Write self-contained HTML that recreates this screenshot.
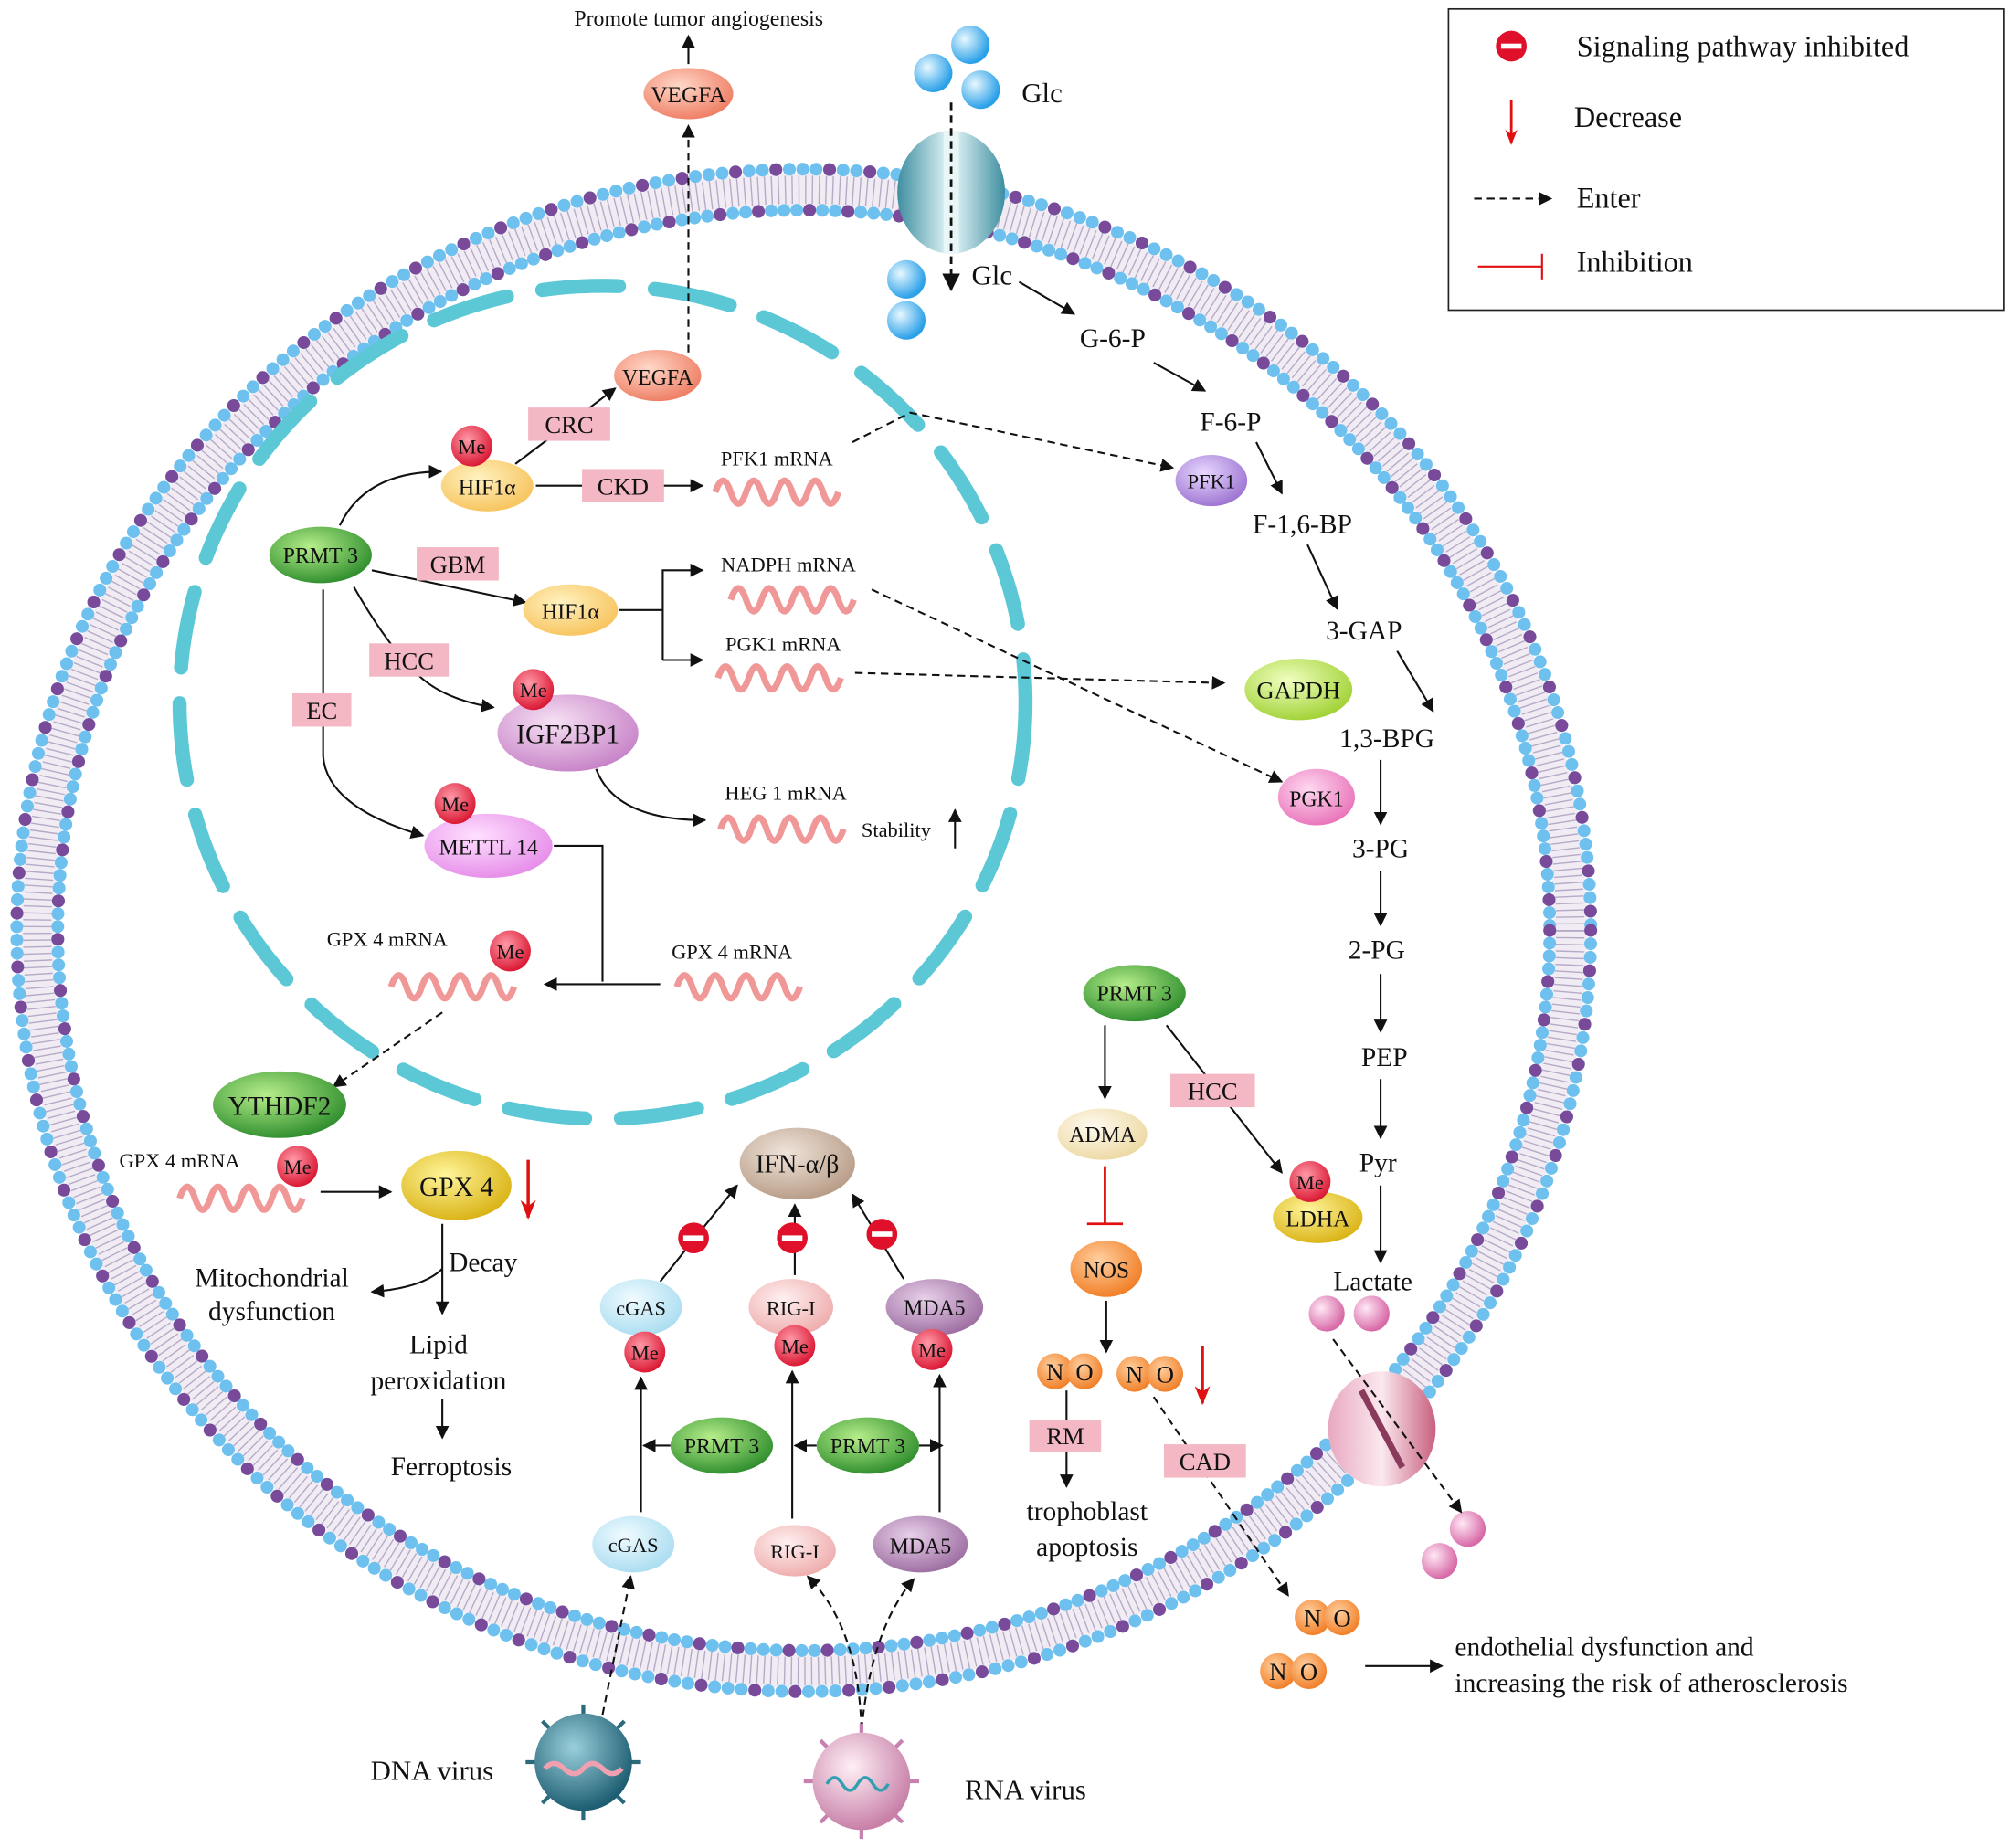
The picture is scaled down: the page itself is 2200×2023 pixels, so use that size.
<!DOCTYPE html>
<html><head><meta charset="utf-8"><style>
html,body{margin:0;padding:0;background:#fff}
svg{display:block}
text{font-family:"Liberation Serif",serif;fill:#111}
</style></head><body>
<svg width="2200" height="2023" viewBox="0 0 1568 1442" xmlns="http://www.w3.org/2000/svg">
<defs>
<marker id="a" viewBox="0 0 10 10" refX="9" refY="5" markerWidth="7" markerHeight="7" orient="auto-start-reverse"><path d="M0,0 L10,5 L0,10 z" fill="#111"/></marker>
<marker id="r" viewBox="0 0 10 10" refX="9" refY="5" markerWidth="6" markerHeight="7" orient="auto"><path d="M0,1 L10,5 L0,9 L3,5 z" fill="#e01010"/></marker>
<radialGradient id="gG" cx="40%" cy="35%" r="70%"><stop offset="0" stop-color="#b6ee8a"/><stop offset="1" stop-color="#2a8a2a"/></radialGradient>
<radialGradient id="gY" cx="40%" cy="35%" r="70%"><stop offset="0" stop-color="#fff2c0"/><stop offset="1" stop-color="#f7c25a"/></radialGradient>
<radialGradient id="gS" cx="40%" cy="35%" r="70%"><stop offset="0" stop-color="#ffd8c8"/><stop offset="1" stop-color="#ee7a60"/></radialGradient>
<radialGradient id="gP" cx="40%" cy="35%" r="70%"><stop offset="0" stop-color="#f6e0f4"/><stop offset="1" stop-color="#c680c6"/></radialGradient>
<radialGradient id="gM" cx="40%" cy="35%" r="70%"><stop offset="0" stop-color="#ffe0ff"/><stop offset="1" stop-color="#e58ae8"/></radialGradient>
<radialGradient id="gR" cx="40%" cy="35%" r="70%"><stop offset="0" stop-color="#ff9aa8"/><stop offset="1" stop-color="#d8102c"/></radialGradient>
<radialGradient id="gGold" cx="40%" cy="35%" r="70%"><stop offset="0" stop-color="#fff59a"/><stop offset="1" stop-color="#d8b010"/></radialGradient>
<radialGradient id="gC" cx="40%" cy="35%" r="70%"><stop offset="0" stop-color="#f0fbff"/><stop offset="1" stop-color="#a8dcf0"/></radialGradient>
<radialGradient id="gRI" cx="40%" cy="35%" r="70%"><stop offset="0" stop-color="#fff0f0"/><stop offset="1" stop-color="#eeaaaa"/></radialGradient>
<radialGradient id="gMD" cx="40%" cy="35%" r="70%"><stop offset="0" stop-color="#e8d0ea"/><stop offset="1" stop-color="#9a6a9e"/></radialGradient>
<radialGradient id="gT" cx="40%" cy="35%" r="70%"><stop offset="0" stop-color="#efe4da"/><stop offset="1" stop-color="#b69a84"/></radialGradient>
<radialGradient id="gAD" cx="40%" cy="35%" r="70%"><stop offset="0" stop-color="#fffaf0"/><stop offset="1" stop-color="#ecd8a0"/></radialGradient>
<radialGradient id="gO" cx="40%" cy="35%" r="70%"><stop offset="0" stop-color="#ffd0a0"/><stop offset="1" stop-color="#f07a20"/></radialGradient>
<radialGradient id="gPF" cx="40%" cy="35%" r="70%"><stop offset="0" stop-color="#e8d8ff"/><stop offset="1" stop-color="#9a70d0"/></radialGradient>
<radialGradient id="gL" cx="40%" cy="35%" r="70%"><stop offset="0" stop-color="#f0ffc0"/><stop offset="1" stop-color="#9ed030"/></radialGradient>
<radialGradient id="gPK" cx="40%" cy="35%" r="70%"><stop offset="0" stop-color="#ffd8f0"/><stop offset="1" stop-color="#e870b8"/></radialGradient>
<radialGradient id="gB" cx="35%" cy="35%" r="65%"><stop offset="0" stop-color="#e8f8ff"/><stop offset="1" stop-color="#2aa0e8"/></radialGradient>
<radialGradient id="gLa" cx="35%" cy="35%" r="65%"><stop offset="0" stop-color="#ffe8f4"/><stop offset="1" stop-color="#d86aa8"/></radialGradient>
<radialGradient id="gV1" cx="40%" cy="35%" r="65%"><stop offset="0" stop-color="#9ad0dc"/><stop offset="1" stop-color="#1e5e72"/></radialGradient>
<radialGradient id="gV2" cx="40%" cy="35%" r="65%"><stop offset="0" stop-color="#fff0f6"/><stop offset="1" stop-color="#c880a8"/></radialGradient>
<linearGradient id="ch" x1="0" x2="1"><stop offset="0" stop-color="#3e8ea0"/><stop offset=".45" stop-color="#d8eef2"/><stop offset=".55" stop-color="#d8eef2"/><stop offset="1" stop-color="#3e8ea0"/></linearGradient>
<linearGradient id="ch2" x1="0" x2="1"><stop offset="0" stop-color="#e8a8c0"/><stop offset=".5" stop-color="#fbe8ef"/><stop offset="1" stop-color="#c8607e"/></linearGradient>
<path id="w" d="M0,0 q6,-18 12,0 t12,0 t12,0 t12,0 t12,0 t12,0 t12,0 t12,0" fill="none" stroke="#f09898" stroke-width="5"/>
</defs>

<!-- membrane -->
<ellipse cx="627" cy="726" rx="598" ry="578" fill="none" stroke="#f1ecf4" stroke-width="26"/>
<ellipse cx="627" cy="726" rx="598" ry="578" fill="none" stroke="#7a6a9a" stroke-width="22" stroke-dasharray="1 4.3" opacity=".5"/>
<ellipse cx="627" cy="726" rx="614" ry="594" fill="none" stroke="#6ec0ee" stroke-width="10" stroke-linecap="round" stroke-dasharray="0 10.5"/>
<ellipse cx="627" cy="726" rx="614" ry="594" fill="none" stroke="#7a4a9a" stroke-width="10" stroke-linecap="round" stroke-dasharray="0 31.5 0 42"/>
<ellipse cx="627" cy="726" rx="582" ry="562" fill="none" stroke="#6ec0ee" stroke-width="10" stroke-linecap="round" stroke-dasharray="0 10"/>
<ellipse cx="627" cy="726" rx="582" ry="562" fill="none" stroke="#7a4a9a" stroke-width="10" stroke-linecap="round" stroke-dasharray="0 40 0 30"/>

<!-- nucleus -->
<ellipse cx="470" cy="548" rx="330" ry="325" fill="none" stroke="#5cc8d6" stroke-width="11" stroke-linecap="round" stroke-dasharray="60 28"/>

<!-- channels -->
<ellipse cx="742" cy="150" rx="42" ry="48" fill="url(#ch)"/>
<rect x="736" y="102" width="12" height="96" fill="#e8f6f8"/>
<line x1="742" y1="80" x2="742" y2="226" stroke="#111" stroke-width="2" stroke-dasharray="6 4" marker-end="url(#a)"/>
<ellipse cx="1078" cy="1115" rx="42" ry="45" fill="url(#ch2)"/>
<line x1="1062" y1="1085" x2="1094" y2="1145" stroke="#8a3a5a" stroke-width="5"/>

<!-- glucose -->
<circle cx="728" cy="57" r="15" fill="url(#gB)"/><circle cx="757" cy="35" r="15" fill="url(#gB)"/><circle cx="765" cy="70" r="15" fill="url(#gB)"/>
<circle cx="707" cy="218" r="15" fill="url(#gB)"/><circle cx="707" cy="250" r="15" fill="url(#gB)"/>
<text x="797" y="80" font-size="22">Glc</text>
<text x="758" y="222" font-size="22">Glc</text>

<!-- top -->
<text x="545" y="20" font-size="17" text-anchor="middle">Promote tumor angiogenesis</text>
<line x1="537" y1="50" x2="537" y2="28" stroke="#111" stroke-width="1.5" marker-end="url(#a)"/>
<ellipse cx="537" cy="73" rx="35" ry="20" fill="url(#gS)"/>
<text x="537" y="80" font-size="18" text-anchor="middle">VEGFA</text>
<line x1="537" y1="275" x2="537" y2="98" stroke="#111" stroke-width="1.5" stroke-dasharray="6 4" marker-end="url(#a)"/>

<!-- nucleus contents -->
<ellipse cx="513" cy="293" rx="34" ry="20" fill="url(#gS)"/><text x="513" y="300" font-size="17" text-anchor="middle">VEGFA</text>
<line x1="402" y1="362" x2="480" y2="303" stroke="#111" stroke-width="1.5" marker-end="url(#a)"/>
<rect x="412" y="318" width="64" height="26" fill="#f4b8c4"/><text x="444" y="338" font-size="19" text-anchor="middle">CRC</text>
<ellipse cx="380" cy="379" rx="36" ry="20" fill="url(#gY)"/><text x="380" y="386" font-size="17" text-anchor="middle">HIF1α</text>
<circle cx="368" cy="348" r="16" fill="url(#gR)"/><text x="368" y="354" font-size="16" text-anchor="middle">Me</text>
<line x1="418" y1="379" x2="548" y2="379" stroke="#111" stroke-width="1.5" marker-end="url(#a)"/>
<rect x="454" y="366" width="64" height="26" fill="#f4b8c4"/><text x="486" y="386" font-size="19" text-anchor="middle">CKD</text>
<text x="606" y="363" font-size="16" text-anchor="middle">PFK1 mRNA</text>
<use href="#w" x="558" y="384"/>

<ellipse cx="250" cy="433" rx="40" ry="22" fill="url(#gG)"/><text x="250" y="439" font-size="17" text-anchor="middle">PRMT 3</text>
<path d="M265,410 Q285,368 344,368" fill="none" stroke="#111" stroke-width="1.5" marker-end="url(#a)"/>
<line x1="290" y1="445" x2="410" y2="470" stroke="#111" stroke-width="1.5" marker-end="url(#a)"/>
<rect x="325" y="427" width="64" height="26" fill="#f4b8c4"/><text x="357" y="447" font-size="19" text-anchor="middle">GBM</text>
<ellipse cx="445" cy="476" rx="37" ry="20" fill="url(#gY)"/><text x="445" y="483" font-size="17" text-anchor="middle">HIF1α</text>
<polyline points="483,476 517,476" fill="none" stroke="#111" stroke-width="1.5"/>
<polyline points="517,515 517,445 548,445" fill="none" stroke="#111" stroke-width="1.5" marker-end="url(#a)"/>
<line x1="517" y1="515" x2="548" y2="515" stroke="#111" stroke-width="1.5" marker-end="url(#a)"/>
<text x="615" y="446" font-size="16" text-anchor="middle">NADPH mRNA</text>
<use href="#w" x="570" y="468"/>
<text x="611" y="508" font-size="16" text-anchor="middle">PGK1 mRNA</text>
<use href="#w" x="560" y="529"/>

<path d="M276,458 Q300,500 320,520 Q340,545 385,552" fill="none" stroke="#111" stroke-width="1.5" marker-end="url(#a)"/>
<rect x="288" y="502" width="62" height="26" fill="#f4b8c4"/><text x="319" y="522" font-size="19" text-anchor="middle">HCC</text>
<ellipse cx="443" cy="572" rx="55" ry="30" fill="url(#gP)"/><text x="443" y="580" font-size="21" text-anchor="middle">IGF2BP1</text>
<circle cx="416" cy="538" r="16" fill="url(#gR)"/><text x="416" y="544" font-size="16" text-anchor="middle">Me</text>
<path d="M252,460 L252,590 Q255,630 330,652" fill="none" stroke="#111" stroke-width="1.5" marker-end="url(#a)"/>
<rect x="228" y="541" width="46" height="26" fill="#f4b8c4"/><text x="251" y="561" font-size="19" text-anchor="middle">EC</text>
<ellipse cx="381" cy="660" rx="50" ry="25" fill="url(#gM)"/><text x="381" y="667" font-size="17" text-anchor="middle">METTL 14</text>
<circle cx="355" cy="627" r="16" fill="url(#gR)"/><text x="355" y="633" font-size="16" text-anchor="middle">Me</text>
<path d="M465,600 Q480,640 550,640" fill="none" stroke="#111" stroke-width="1.5" marker-end="url(#a)"/>
<text x="613" y="624" font-size="16" text-anchor="middle">HEG 1 mRNA</text>
<use href="#w" x="562" y="647"/>
<text x="672" y="653" font-size="16">Stability</text>
<line x1="745" y1="662" x2="745" y2="632" stroke="#111" stroke-width="1.5" marker-end="url(#a)"/>
<polyline points="432,660 470,660 470,766" fill="none" stroke="#111" stroke-width="1.5"/>
<line x1="515" y1="768" x2="425" y2="768" stroke="#111" stroke-width="1.5" marker-end="url(#a)"/>
<text x="571" y="748" font-size="16" text-anchor="middle">GPX 4 mRNA</text>
<use href="#w" x="528" y="770"/>
<text x="302" y="738" font-size="16" text-anchor="middle">GPX 4 mRNA</text>
<use href="#w" x="305" y="770"/>
<circle cx="398" cy="742" r="16" fill="url(#gR)"/><text x="398" y="748" font-size="16" text-anchor="middle">Me</text>

<!-- GPX4 cytoplasm -->
<line x1="345" y1="790" x2="260" y2="848" stroke="#111" stroke-width="1.5" stroke-dasharray="6 4" marker-end="url(#a)"/>
<ellipse cx="218" cy="862" rx="52" ry="26" fill="url(#gG)"/><text x="218" y="870" font-size="21" text-anchor="middle">YTHDF2</text>
<text x="140" y="911" font-size="16" text-anchor="middle">GPX 4 mRNA</text>
<use href="#w" x="140" y="935"/>
<circle cx="232" cy="910" r="16" fill="url(#gR)"/><text x="232" y="916" font-size="16" text-anchor="middle">Me</text>
<line x1="250" y1="930" x2="305" y2="930" stroke="#111" stroke-width="1.5" marker-end="url(#a)"/>
<ellipse cx="356" cy="925" rx="43" ry="27" fill="url(#gGold)"/><text x="356" y="933" font-size="21" text-anchor="middle">GPX 4</text>
<line x1="412" y1="905" x2="412" y2="950" stroke="#e01010" stroke-width="2.5" marker-end="url(#r)"/>
<text x="350" y="992" font-size="21">Decay</text>
<line x1="345" y1="955" x2="345" y2="1025" stroke="#111" stroke-width="1.5" marker-end="url(#a)"/>
<path d="M345,990 Q330,1005 290,1008" fill="none" stroke="#111" stroke-width="1.5" marker-end="url(#a)"/>
<text x="212" y="1004" font-size="21" text-anchor="middle">Mitochondrial</text>
<text x="212" y="1030" font-size="21" text-anchor="middle">dysfunction</text>
<text x="342" y="1056" font-size="21" text-anchor="middle">Lipid</text>
<text x="342" y="1084" font-size="21" text-anchor="middle">peroxidation</text>
<line x1="345" y1="1092" x2="345" y2="1122" stroke="#111" stroke-width="1.5" marker-end="url(#a)"/>
<text x="352" y="1151" font-size="21" text-anchor="middle">Ferroptosis</text>

<!-- IFN -->
<ellipse cx="622" cy="908" rx="45" ry="28" fill="url(#gT)"/><text x="622" y="915" font-size="20" text-anchor="middle">IFN-α/β</text>
<line x1="515" y1="1000" x2="575" y2="925" stroke="#111" stroke-width="1.5" marker-end="url(#a)"/>
<line x1="620" y1="995" x2="620" y2="940" stroke="#111" stroke-width="1.5" marker-end="url(#a)"/>
<line x1="705" y1="998" x2="665" y2="932" stroke="#111" stroke-width="1.5" marker-end="url(#a)"/>
<g fill="#e0102a"><circle cx="541" cy="966" r="12"/><circle cx="618" cy="966" r="12"/><circle cx="688" cy="963" r="12"/></g>
<g fill="#fff"><rect x="533" y="964" width="16" height="4"/><rect x="610" y="964" width="16" height="4"/><rect x="680" y="961" width="16" height="4"/></g>
<ellipse cx="500" cy="1020" rx="32" ry="22" fill="url(#gC)"/><text x="500" y="1026" font-size="16" text-anchor="middle">cGAS</text>
<circle cx="503" cy="1055" r="16" fill="url(#gR)"/><text x="503" y="1061" font-size="16" text-anchor="middle">Me</text>
<ellipse cx="617" cy="1020" rx="33" ry="22" fill="url(#gRI)"/><text x="617" y="1026" font-size="16" text-anchor="middle">RIG-I</text>
<circle cx="620" cy="1050" r="16" fill="url(#gR)"/><text x="620" y="1056" font-size="16" text-anchor="middle">Me</text>
<ellipse cx="729" cy="1020" rx="38" ry="22" fill="url(#gMD)"/><text x="729" y="1026" font-size="17" text-anchor="middle">MDA5</text>
<circle cx="727" cy="1053" r="16" fill="url(#gR)"/><text x="727" y="1059" font-size="16" text-anchor="middle">Me</text>
<line x1="500" y1="1180" x2="500" y2="1075" stroke="#111" stroke-width="1.5" marker-end="url(#a)"/>
<line x1="618" y1="1185" x2="618" y2="1070" stroke="#111" stroke-width="1.5" marker-end="url(#a)"/>
<line x1="733" y1="1180" x2="733" y2="1073" stroke="#111" stroke-width="1.5" marker-end="url(#a)"/>
<ellipse cx="563" cy="1128" rx="40" ry="22" fill="url(#gG)"/><text x="563" y="1134" font-size="17" text-anchor="middle">PRMT 3</text>
<ellipse cx="677" cy="1128" rx="40" ry="22" fill="url(#gG)"/><text x="677" y="1134" font-size="17" text-anchor="middle">PRMT 3</text>
<line x1="523" y1="1128" x2="502" y2="1128" stroke="#111" stroke-width="1.5" marker-end="url(#a)"/>
<line x1="637" y1="1128" x2="620" y2="1128" stroke="#111" stroke-width="1.5" marker-end="url(#a)"/>
<line x1="717" y1="1128" x2="735" y2="1128" stroke="#111" stroke-width="1.5" marker-end="url(#a)"/>
<ellipse cx="494" cy="1205" rx="32" ry="22" fill="url(#gC)"/><text x="494" y="1211" font-size="16" text-anchor="middle">cGAS</text>
<ellipse cx="620" cy="1210" rx="32" ry="20" fill="url(#gRI)"/><text x="620" y="1216" font-size="16" text-anchor="middle">RIG-I</text>
<ellipse cx="718" cy="1205" rx="37" ry="22" fill="url(#gMD)"/><text x="718" y="1212" font-size="17" text-anchor="middle">MDA5</text>
<line x1="470" y1="1338" x2="492" y2="1230" stroke="#111" stroke-width="1.5" stroke-dasharray="6 4" marker-end="url(#a)"/>
<path d="M672,1350 Q670,1270 630,1230" fill="none" stroke="#111" stroke-width="1.5" stroke-dasharray="6 4" marker-end="url(#a)"/>
<path d="M672,1350 Q680,1270 713,1232" fill="none" stroke="#111" stroke-width="1.5" stroke-dasharray="6 4" marker-end="url(#a)"/>

<!-- viruses -->
<g stroke="#2a6a7a" stroke-width="3"><line x1="455" y1="1330" x2="455" y2="1420"/><line x1="410" y1="1375" x2="500" y2="1375"/><line x1="423" y1="1343" x2="487" y2="1407"/><line x1="487" y1="1343" x2="423" y2="1407"/></g>
<circle cx="455" cy="1375" r="38" fill="url(#gV1)"/>
<path d="M425,1380 q7,-8 15,0 t15,0 t15,0 t15,0" fill="none" stroke="#f0a0b0" stroke-width="4"/>
<text x="337" y="1389" font-size="22" text-anchor="middle">DNA virus</text>
<g stroke="#c880b0" stroke-width="3"><line x1="672" y1="1345" x2="672" y2="1435"/><line x1="627" y1="1390" x2="717" y2="1390"/><line x1="640" y1="1358" x2="704" y2="1422"/><line x1="704" y1="1358" x2="640" y2="1422"/></g>
<circle cx="672" cy="1390" r="38" fill="url(#gV2)"/>
<path d="M645,1392 q6,-10 12,0 t12,0 t12,0 t12,0" fill="none" stroke="#30a0b0" stroke-width="2.5"/>
<text x="800" y="1404" font-size="22" text-anchor="middle">RNA virus</text>

<!-- glycolysis -->
<g font-size="21" text-anchor="middle">
<text x="868" y="271">G-6-P</text><text x="960" y="336">F-6-P</text><text x="1016" y="416">F-1,6-BP</text>
<text x="1064" y="499">3-GAP</text><text x="1082" y="583">1,3-BPG</text><text x="1077" y="669">3-PG</text>
<text x="1074" y="748">2-PG</text><text x="1080" y="832">PEP</text><text x="1075" y="914">Pyr</text><text x="1071" y="1007">Lactate</text>
</g>
<g stroke="#111" stroke-width="1.5" marker-end="url(#a)">
<line x1="795" y1="220" x2="838" y2="245"/><line x1="900" y1="283" x2="940" y2="305"/><line x1="980" y1="345" x2="1000" y2="385"/>
<line x1="1020" y1="425" x2="1043" y2="475"/><line x1="1090" y1="508" x2="1118" y2="555"/><line x1="1077" y1="593" x2="1077" y2="643"/>
<line x1="1077" y1="680" x2="1077" y2="722"/><line x1="1077" y1="760" x2="1077" y2="805"/><line x1="1077" y1="842" x2="1077" y2="888"/>
<line x1="1077" y1="925" x2="1077" y2="985"/>
</g>
<ellipse cx="945" cy="375" rx="28" ry="20" fill="url(#gPF)"/><text x="945" y="381" font-size="16" text-anchor="middle">PFK1</text>
<ellipse cx="1013" cy="538" rx="42" ry="24" fill="url(#gL)"/><text x="1013" y="545" font-size="19" text-anchor="middle">GAPDH</text>
<ellipse cx="1027" cy="622" rx="30" ry="22" fill="url(#gPK)"/><text x="1027" y="629" font-size="17" text-anchor="middle">PGK1</text>
<polyline points="665,345 710,322 915,365" fill="none" stroke="#111" stroke-width="1.5" stroke-dasharray="6 4" marker-end="url(#a)"/>
<line x1="667" y1="525" x2="955" y2="533" stroke="#111" stroke-width="1.5" stroke-dasharray="6 4" marker-end="url(#a)"/>
<line x1="680" y1="460" x2="1000" y2="610" stroke="#111" stroke-width="1.5" stroke-dasharray="6 4" marker-end="url(#a)"/>

<!-- NO pathway -->
<ellipse cx="885" cy="775" rx="40" ry="22" fill="url(#gG)"/><text x="885" y="781" font-size="17" text-anchor="middle">PRMT 3</text>
<line x1="862" y1="800" x2="862" y2="857" stroke="#111" stroke-width="1.5" marker-end="url(#a)"/>
<ellipse cx="860" cy="885" rx="35" ry="20" fill="url(#gAD)"/><text x="860" y="891" font-size="17" text-anchor="middle">ADMA</text>
<line x1="862" y1="910" x2="862" y2="955" stroke="#e01010" stroke-width="2"/><line x1="848" y1="955" x2="876" y2="955" stroke="#e01010" stroke-width="2"/>
<ellipse cx="863" cy="990" rx="28" ry="22" fill="url(#gO)"/><text x="863" y="997" font-size="18" text-anchor="middle">NOS</text>
<line x1="863" y1="1015" x2="863" y2="1055" stroke="#111" stroke-width="1.5" marker-end="url(#a)"/>
<g fill="url(#gO)"><circle cx="823" cy="1070" r="14"/><circle cx="846" cy="1070" r="14"/><circle cx="885" cy="1072" r="14"/><circle cx="909" cy="1072" r="14"/>
<circle cx="1024" cy="1262" r="14"/><circle cx="1047" cy="1262" r="14"/><circle cx="997" cy="1304" r="14"/><circle cx="1021" cy="1304" r="14"/></g>
<g font-size="19" text-anchor="middle"><text x="823" y="1077">N</text><text x="846" y="1077">O</text><text x="885" y="1079">N</text><text x="909" y="1079">O</text>
<text x="1024" y="1269">N</text><text x="1047" y="1269">O</text><text x="997" y="1311">N</text><text x="1021" y="1311">O</text></g>
<line x1="938" y1="1050" x2="938" y2="1095" stroke="#e01010" stroke-width="2.5" marker-end="url(#r)"/>
<line x1="832" y1="1085" x2="832" y2="1108" stroke="#111" stroke-width="1.5"/>
<rect x="803" y="1108" width="56" height="25" fill="#f4b8c4"/><text x="831" y="1127" font-size="19" text-anchor="middle">RM</text>
<line x1="832" y1="1133" x2="832" y2="1160" stroke="#111" stroke-width="1.5" marker-end="url(#a)"/>
<text x="848" y="1186" font-size="21" text-anchor="middle">trophoblast</text>
<text x="848" y="1214" font-size="21" text-anchor="middle">apoptosis</text>
<line x1="910" y1="800" x2="1000" y2="915" stroke="#111" stroke-width="1.5" marker-end="url(#a)"/>
<rect x="913" y="838" width="66" height="26" fill="#f4b8c4"/><text x="946" y="858" font-size="19" text-anchor="middle">HCC</text>
<ellipse cx="1028" cy="950" rx="35" ry="20" fill="url(#gGold)"/><text x="1028" y="957" font-size="18" text-anchor="middle">LDHA</text>
<circle cx="1022" cy="922" r="16" fill="url(#gR)"/><text x="1022" y="928" font-size="16" text-anchor="middle">Me</text>
<line x1="900" y1="1090" x2="1005" y2="1245" stroke="#111" stroke-width="1.5" stroke-dasharray="6 4" marker-end="url(#a)"/>
<rect x="908" y="1127" width="64" height="26" fill="#f4b8c4"/><text x="940" y="1147" font-size="19" text-anchor="middle">CAD</text>
<line x1="1065" y1="1300" x2="1125" y2="1300" stroke="#111" stroke-width="1.5" marker-end="url(#a)"/>
<text x="1135" y="1292" font-size="21">endothelial dysfunction and</text>
<text x="1135" y="1320" font-size="21">increasing the risk of atherosclerosis</text>
<g fill="url(#gLa)"><circle cx="1035" cy="1025" r="14"/><circle cx="1070" cy="1025" r="14"/><circle cx="1145" cy="1193" r="14"/><circle cx="1123" cy="1218" r="14"/></g>
<line x1="1040" y1="1045" x2="1140" y2="1180" stroke="#111" stroke-width="1.5" stroke-dasharray="6 4" marker-end="url(#a)"/>

<!-- legend -->
<rect x="1130" y="7" width="433" height="235" fill="#fff" stroke="#222" stroke-width="1.2"/>
<circle cx="1179" cy="36" r="12" fill="#e0102a"/><rect x="1171" y="34" width="16" height="4" fill="#fff"/>
<text x="1230" y="44" font-size="23">Signaling pathway inhibited</text>
<line x1="1179" y1="78" x2="1179" y2="112" stroke="#e01010" stroke-width="2" marker-end="url(#r)"/>
<text x="1228" y="99" font-size="23">Decrease</text>
<line x1="1150" y1="155" x2="1210" y2="155" stroke="#111" stroke-width="1.5" stroke-dasharray="6 4" marker-end="url(#a)"/>
<text x="1230" y="162" font-size="23">Enter</text>
<line x1="1153" y1="208" x2="1203" y2="208" stroke="#e01010" stroke-width="1.5"/><line x1="1203" y1="198" x2="1203" y2="218" stroke="#e01010" stroke-width="1.5"/>
<text x="1230" y="212" font-size="23">Inhibition</text>
</svg>
</body></html>
